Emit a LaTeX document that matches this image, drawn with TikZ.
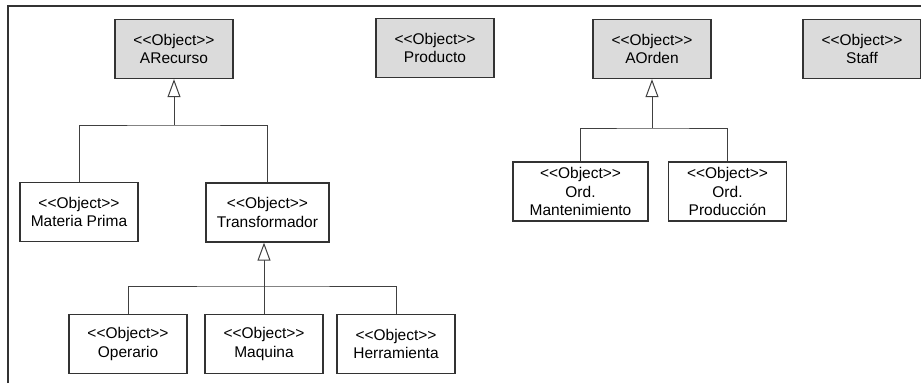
\documentclass[tikz,border=0pt]{standalone}
\usepackage{fontspec}
\setmainfont{Liberation Sans}[Ligatures=TeXOff]
\usetikzlibrary{arrows.meta,positioning}

\tikzset{
 obj/.style={draw=black!80, line width=1.3pt, fill=white, minimum width=118pt,
   minimum height=59pt, inner sep=2pt, align=center,
   font=\fontsize{15.5}{18.5}\selectfont},
 absobj/.style={obj, fill=black!14},
 link/.style={draw=black!75, line width=1pt},
 inh/.style={link, -{Triangle[open, length=18pt, width=13pt, fill=white]}}
}
\newcommand{\stereo}{<<Object>>}

\begin{document}
\begin{tikzpicture}[x=1pt, y=-1pt]
 \useasboundingbox (0,0) rectangle (921,383);
 \draw[black!80, line width=1.3pt] (8,383) -- (8,6) -- (921,6);

 % top row
 \node[absobj] (arecurso) at (174,49) {\stereo\\ARecurso};
 \node[absobj] (producto) at (435,48) {\stereo\\Producto};
 \node[absobj] (aorden) at (652,49) {\stereo\\AOrden};
 \node[absobj] (staff) at (862,49) {\stereo\\Staff};

 % recursos
 \node[obj] (mprima) at (79,212) {\stereo\\Materia Prima};
 \node[obj, minimum width=123pt] (transf) at (267.5,212.5) {\stereo\\Transformador};
 \node[obj] (operario) at (128,344) {\stereo\\Operario};
 \node[obj] (maquina) at (264,344) {\stereo\\Maquina};
 \node[obj] (herram) at (396,344) {\stereo\\Herramienta};

 % ordenes
 \node[obj, minimum width=135pt] (omant) at (580.5,191.5) {\stereo\\Ord.\\Mantenimiento};
 \node[obj] (oprod) at (727.5,191.5) {\stereo\\Ord.\\Producción};

 \coordinate (rbar) at (174,125);
 \draw[link] (mprima.north) |- (rbar) -| (transf.north);
 \draw[inh] (rbar) -- (arecurso.south);

 \coordinate (tbar) at (264,286);
 \draw[link] (operario.north) |- (tbar) -| (herram.north);
 \draw[link] (maquina.north) -- (tbar);
 \draw[inh] (tbar) -- (maquina.north |- transf.south);

 \coordinate (obar) at (652,128);
 \draw[link] (omant.north) |- (obar) -| (oprod.north);
 \draw[inh] (obar) -- (aorden.south);
\end{tikzpicture}
\end{document}
